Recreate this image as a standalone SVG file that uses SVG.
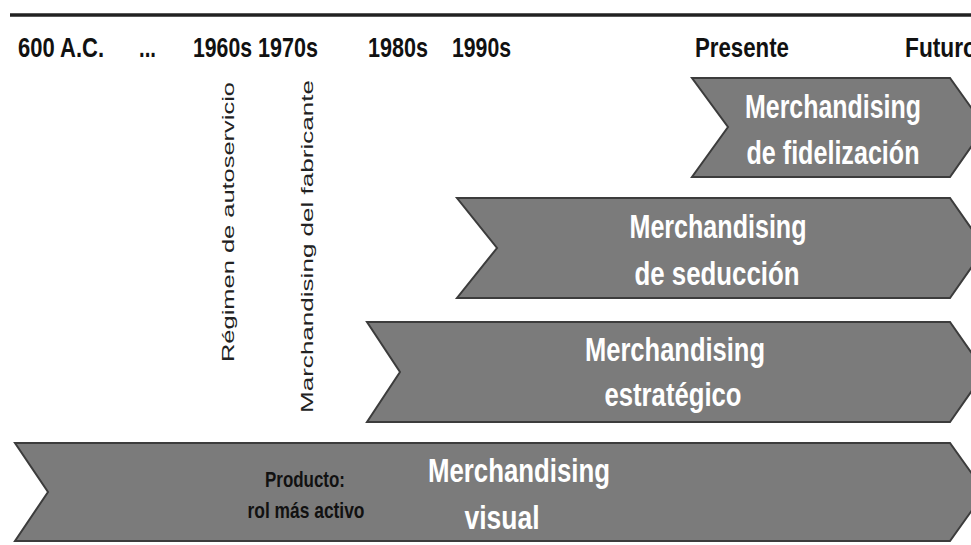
<svg xmlns="http://www.w3.org/2000/svg" width="971" height="545" viewBox="0 0 971 545">
  <style>
    .hdr { font-family: "Liberation Sans", Arial, sans-serif; font-weight: bold; font-size: 27px; fill: #111; }
    .vert { font-family: "Liberation Sans", Arial, sans-serif; font-size: 17px; fill: #222; }
    .chev { fill: #7b7b7b; stroke: #3c3c3c; stroke-width: 2; stroke-linejoin: miter; }
    .lbl { font-family: "Liberation Sans", Arial, sans-serif; font-weight: bold; font-size: 34px; fill: #fff; text-anchor: middle; }
    .sub { font-family: "Liberation Sans", Arial, sans-serif; font-weight: bold; font-size: 22px; fill: #111; text-anchor: middle; }
  </style>

  <rect width="971" height="545" fill="#fff"/>

  <!-- timeline axis -->
  <g id="axis">
    <line x1="10" y1="15" x2="971" y2="15" stroke="#222" stroke-width="3.5"/>
    <text class="hdr" x="18" y="57" textLength="86" lengthAdjust="spacingAndGlyphs">600 A.C.</text>
    <text class="hdr" x="139" y="57" textLength="17" lengthAdjust="spacingAndGlyphs">...</text>
    <text class="hdr" x="193" y="57" textLength="59" lengthAdjust="spacingAndGlyphs">1960s</text>
    <text class="hdr" x="258" y="57" textLength="60" lengthAdjust="spacingAndGlyphs">1970s</text>
    <text class="hdr" x="368" y="57" textLength="60" lengthAdjust="spacingAndGlyphs">1980s</text>
    <text class="hdr" x="452" y="57" textLength="59" lengthAdjust="spacingAndGlyphs">1990s</text>
    <text class="hdr" x="695" y="57" textLength="94" lengthAdjust="spacingAndGlyphs">Presente</text>
    <text class="hdr" x="905" y="57" textLength="72" lengthAdjust="spacingAndGlyphs">Futuro</text>
  </g>

  <!-- vertical milestone labels -->
  <g id="autoservicio">
    <text class="vert" transform="translate(234,362) rotate(-90)" textLength="280" lengthAdjust="spacingAndGlyphs">Régimen de autoservicio</text>
  </g>
  <g id="fabricante">
    <text class="vert" transform="translate(313,413) rotate(-90)" textLength="333" lengthAdjust="spacingAndGlyphs">Marchandising del fabricante</text>
  </g>

  <!-- chevrons -->
  <g id="fidelizacion">
    <polygon class="chev" points="692,78 950,78 985,127 950,177 692,177 728,127"/>
    <text class="lbl" x="833" y="118" textLength="176" lengthAdjust="spacingAndGlyphs">Merchandising</text>
    <text class="lbl" x="833" y="164" textLength="173" lengthAdjust="spacingAndGlyphs">de fidelización</text>
  </g>

  <g id="seduccion">
    <polygon class="chev" points="457,198 950,198 985,248 950,298 457,298 497,248"/>
    <text class="lbl" x="718" y="238" textLength="177" lengthAdjust="spacingAndGlyphs">Merchandising</text>
    <text class="lbl" x="717" y="285" textLength="165" lengthAdjust="spacingAndGlyphs">de seducción</text>
  </g>

  <g id="estrategico">
    <polygon class="chev" points="367,322 950,322 985,372 950,422 367,422 400,372"/>
    <text class="lbl" x="675" y="361" textLength="180" lengthAdjust="spacingAndGlyphs">Merchandising</text>
    <text class="lbl" x="673" y="406" textLength="137" lengthAdjust="spacingAndGlyphs">estratégico</text>
  </g>

  <g id="visual">
    <polygon class="chev" points="15,443 950,443 985,492 950,541 15,541 48,492"/>
    <text class="lbl" x="519" y="482" textLength="182" lengthAdjust="spacingAndGlyphs">Merchandising</text>
    <text class="lbl" x="502" y="529" textLength="75" lengthAdjust="spacingAndGlyphs">visual</text>
    <text class="sub" x="305" y="487" textLength="80" lengthAdjust="spacingAndGlyphs">Producto:</text>
    <text class="sub" x="306" y="518" textLength="117" lengthAdjust="spacingAndGlyphs">rol más activo</text>
  </g>
</svg>
